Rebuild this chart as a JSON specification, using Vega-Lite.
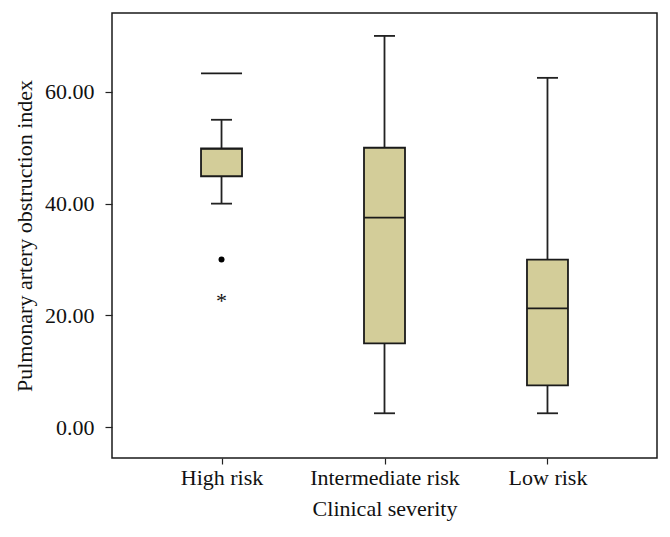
{
  "$schema": "https://vega.github.io/schema/vega-lite/v6.json",
  "autosize": {"type": "none"},
  "padding": {"left": 112, "top": 13, "right": 13, "bottom": 79},
  "width": 545,
  "height": 445,
  "background": "white",
  "config": {
    "font": "Liberation Serif",
    "view": {"stroke": "#1a1a1a", "strokeWidth": 1.5},
    "axis": {
      "labelFont": "Liberation Serif",
      "titleFont": "Liberation Serif",
      "labelFontSize": 22,
      "titleFontSize": 22,
      "titleFontWeight": "normal",
      "labelColor": "#111",
      "titleColor": "#111",
      "tickColor": "#222",
      "tickWidth": 1.2,
      "domain": false,
      "grid": false
    }
  },
  "datasets": {
    "boxes": [
      {"severity": "High risk", "lo": 40, "q1": 44.9, "med": 49.8, "q3": 49.9, "hi": 55},
      {"severity": "Intermediate risk", "lo": 2.5, "q1": 15, "med": 37.5, "q3": 50, "hi": 70},
      {"severity": "Low risk", "lo": 2.5, "q1": 7.5, "med": 21.25, "q3": 30, "hi": 62.5}
    ],
    "extremes": [
      {"severity": "High risk", "value": 63.3, "kind": "line"},
      {"severity": "High risk", "value": 30, "kind": "dot"},
      {"severity": "High risk", "value": 23.3, "kind": "star"}
    ]
  },
  "encoding": {
    "x": {
      "field": "severity",
      "type": "nominal",
      "sort": ["High risk", "Intermediate risk", "Low risk"],
      "scale": {"type": "point", "padding": 0.672},
      "axis": {"title": "Clinical severity", "labelAngle": 0, "tickSize": 6, "labelPadding": 3, "titlePadding": 10}
    }
  },
  "layer": [
    {
      "data": {"name": "boxes"},
      "mark": {"type": "rule", "color": "#222", "strokeWidth": 1.8},
      "encoding": {
        "y": {
          "field": "lo",
          "type": "quantitative",
          "scale": {"domain": [-5.5, 74.1], "nice": false, "zero": false},
          "axis": {"title": "Pulmonary artery obstruction index", "values": [0, 20, 40, 60], "format": ".2f", "tickSize": 7, "labelPadding": 11, "titlePadding": 8}
        },
        "y2": {"field": "hi"}
      }
    },
    {
      "data": {"name": "boxes"},
      "mark": {"type": "tick", "color": "#222", "size": 21, "thickness": 1.8, "opacity": 1},
      "encoding": {"y": {"field": "lo", "type": "quantitative"}}
    },
    {
      "data": {"name": "boxes"},
      "mark": {"type": "tick", "color": "#222", "size": 21, "thickness": 1.8, "opacity": 1},
      "encoding": {"y": {"field": "hi", "type": "quantitative"}}
    },
    {
      "data": {"name": "boxes"},
      "mark": {"type": "bar", "size": 41, "fill": "#d3cd99", "stroke": "#1a1a1a", "strokeWidth": 1.8},
      "encoding": {
        "y": {"field": "q1", "type": "quantitative"},
        "y2": {"field": "q3"}
      }
    },
    {
      "data": {"name": "boxes"},
      "mark": {"type": "tick", "color": "#1a1a1a", "size": 41, "thickness": 1.8, "opacity": 1},
      "encoding": {"y": {"field": "med", "type": "quantitative"}}
    },
    {
      "data": {"name": "extremes"},
      "transform": [{"filter": "datum.kind === 'line'"}],
      "mark": {"type": "tick", "color": "#1a1a1a", "size": 41, "thickness": 1.8, "opacity": 1},
      "encoding": {"y": {"field": "value", "type": "quantitative"}}
    },
    {
      "data": {"name": "extremes"},
      "transform": [{"filter": "datum.kind === 'dot'"}],
      "mark": {"type": "point", "filled": true, "color": "#000", "size": 36, "opacity": 1},
      "encoding": {"y": {"field": "value", "type": "quantitative"}}
    },
    {
      "data": {"name": "extremes"},
      "transform": [{"filter": "datum.kind === 'star'"}],
      "mark": {"type": "text", "text": "*", "fontSize": 22, "color": "#111", "baseline": "middle", "dy": 4},
      "encoding": {"y": {"field": "value", "type": "quantitative"}}
    }
  ]
}
